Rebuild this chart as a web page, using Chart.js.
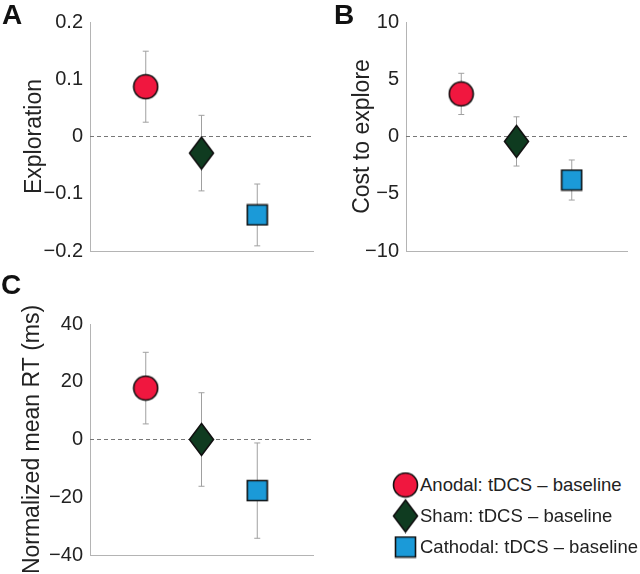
<!DOCTYPE html>
<html>
<head>
<meta charset="utf-8">
<script src="https://cdn.jsdelivr.net/npm/chart.js@4/dist/chart.umd.min.js"></script>
<style>
  body { margin: 0; background: #fff; }
  #wrap { position: relative; width: 640px; height: 574px; font-family: "Liberation Sans", Arial, sans-serif; color: #222; }
  #wrap canvas.chart { position: absolute; }
  .panel { position: absolute; font-weight: bold; font-size: 28px; line-height: 28px; color: #111; }
  .leg { position: absolute; left: 392px; height: 36px; display: flex; align-items: center; font-size: 18.5px; }
  .leg canvas { margin-right: 1px; }
</style>
</head>
<body>
<div id="wrap">
  <canvas id="chartA" class="chart" width="326" height="270" style="left:0;top:0"></canvas>
  <canvas id="chartB" class="chart" width="320" height="270" style="left:320px;top:0"></canvas>
  <canvas id="chartC" class="chart" width="326" height="304" style="left:0;top:270px"></canvas>
  <div class="panel" style="left:2px;top:1px">A</div>
  <div class="panel" style="left:334px;top:1px">B</div>
  <div class="panel" style="left:1px;top:271px">C</div>
  <div id="legend"></div>
</div>
<script>
// groups, x positions and values
const groups = ['Anodal: tDCS \u2013 baseline', 'Sham: tDCS \u2013 baseline', 'Cathodal: tDCS \u2013 baseline'];
const xPos = [1, 2, 3];

const explorationMean = [0.087, -0.029, -0.137];
const explorationErr = [0.062, 0.066, 0.054];
const explorationTicks = [-0.2, -0.1, 0, 0.1, 0.2];

const costMean = [3.72, -0.43, -3.8];
const costErr = [1.8, 2.15, 1.75];
const costTicks = [-10, -5, 0, 5, 10];

const rtMean = [17.8, 0, -17.7];
const rtErr = [12.4, 16.2, 16.5];
const rtTicks = [-40, -20, 0, 20, 40];

const fills = ['#f0173f', '#0f3b20', '#1b9ad8'];
const shapes = ['circle', 'diamond', 'square'];

function makeMarker(kind, fill) {
  const c = document.createElement('canvas');
  let w = 27, h = 27;
  if (kind === 'diamond') { w = 27; h = 35; }
  if (kind === 'square') { w = 23; h = 23; }
  c.width = w; c.height = h;
  const g = c.getContext('2d');
  g.fillStyle = fill;
  g.strokeStyle = '#111';
  g.lineWidth = 1.6;
  g.beginPath();
  if (kind === 'circle') {
    g.arc(w / 2, h / 2, 12, 0, Math.PI * 2);
  } else if (kind === 'diamond') {
    g.moveTo(w / 2, 1.5);
    g.lineTo(w - 1.5, h / 2);
    g.lineTo(w / 2, h - 1.5);
    g.lineTo(1.5, h / 2);
    g.closePath();
  } else {
    g.rect(1.5, 1.5, w - 3, h - 3);
  }
  g.fill();
  g.stroke();
  return c;
}

const markers = shapes.map((s, i) => makeMarker(s, fills[i]));

// zero line + error bars, drawn under the markers
const errBars = {
  id: 'errBars',
  beforeDatasetsDraw(chart) {
    const { ctx, chartArea, scales } = chart;
    const y0 = scales.y.getPixelForValue(0);
    ctx.save();
    ctx.strokeStyle = '#777';
    ctx.lineWidth = 1;
    ctx.setLineDash([4, 3]);
    ctx.beginPath();
    ctx.moveTo(chartArea.left, y0);
    ctx.lineTo(chartArea.right, y0);
    ctx.stroke();
    ctx.setLineDash([]);
    ctx.strokeStyle = '#a0a0a0';
    chart.data.datasets.forEach(ds => {
      const p = ds.data[0];
      const x = scales.x.getPixelForValue(p.x);
      const yt = scales.y.getPixelForValue(p.y + ds.err);
      const yb = scales.y.getPixelForValue(p.y - ds.err);
      ctx.beginPath();
      ctx.moveTo(x, yt); ctx.lineTo(x, yb);
      ctx.moveTo(x - 3, yt); ctx.lineTo(x + 3, yt);
      ctx.moveTo(x - 3, yb); ctx.lineTo(x + 3, yb);
      ctx.stroke();
    });
    ctx.restore();
  }
};

function fmt(v) {
  const s = String(Math.abs(v));
  return v < 0 ? '\u2212' + s : s;
}

function makeChart(id, means, errs, ticks, title, opts) {
  const datasets = groups.map((g, i) => ({
    label: g,
    data: [{ x: xPos[i], y: means[i] }],
    err: errs[i],
    pointStyle: markers[i],
    pointRadius: 12,
    pointHoverRadius: 12
  }));
  return new Chart(document.getElementById(id), {
    type: 'scatter',
    data: { datasets },
    options: {
      responsive: false,
      animation: false,
      events: [],
      layout: { padding: { top: opts.top, bottom: opts.bottom, left: 0, right: opts.right } },
      plugins: { legend: { display: false }, tooltip: { enabled: false } },
      scales: {
        x: {
          type: 'linear', min: 0, max: 4,
          ticks: { display: false },
          grid: { display: false, drawTicks: false },
          border: { display: true, color: '#b4b4b4', width: 1 },
          afterFit: s => { s.height = 0; }
        },
        y: {
          min: ticks[0], max: ticks[ticks.length - 1],
          afterBuildTicks: s => { s.ticks = ticks.map(v => ({ value: v })); },
          afterFit: s => { s.width = opts.axisW; },
          ticks: { callback: v => fmt(v), font: { size: 20, family: 'Liberation Sans' }, color: '#222', padding: 7 },
          grid: { display: false, drawTicks: false },
          border: { display: true, color: '#b4b4b4', width: 1 },
          title: { display: true, text: title, color: '#222', font: { size: 23, family: 'Liberation Sans' }, padding: { top: opts.titlePad, bottom: 0 } }
        }
      }
    },
    plugins: [errBars]
  });
}

makeChart('chartA', explorationMean, explorationErr, explorationTicks, 'Exploration',
  { top: 22, bottom: 15, right: 2, axisW: 90, titlePad: 21 });
makeChart('chartB', costMean, costErr, costTicks, 'Cost to explore',
  { top: 22, bottom: 15, right: 3, axisW: 86, titlePad: 29 });
makeChart('chartC', rtMean, rtErr, rtTicks, 'Normalized mean RT (ms)',
  { top: 54, bottom: 16, right: 2, axisW: 90, titlePad: 19 });

// legend
const legend = document.getElementById('legend');
const rowY = [485, 516, 547];
groups.forEach((g, i) => {
  const row = document.createElement('div');
  row.className = 'leg';
  row.style.top = (rowY[i] - 18) + 'px';
  const box = document.createElement('canvas');
  box.width = 27; box.height = 36;
  const m = markers[i];
  box.getContext('2d').drawImage(m, (27 - m.width) / 2, (36 - m.height) / 2);
  row.appendChild(box);
  const t = document.createElement('span');
  t.textContent = g;
  row.appendChild(t);
  legend.appendChild(row);
});
</script>
</body>
</html>
